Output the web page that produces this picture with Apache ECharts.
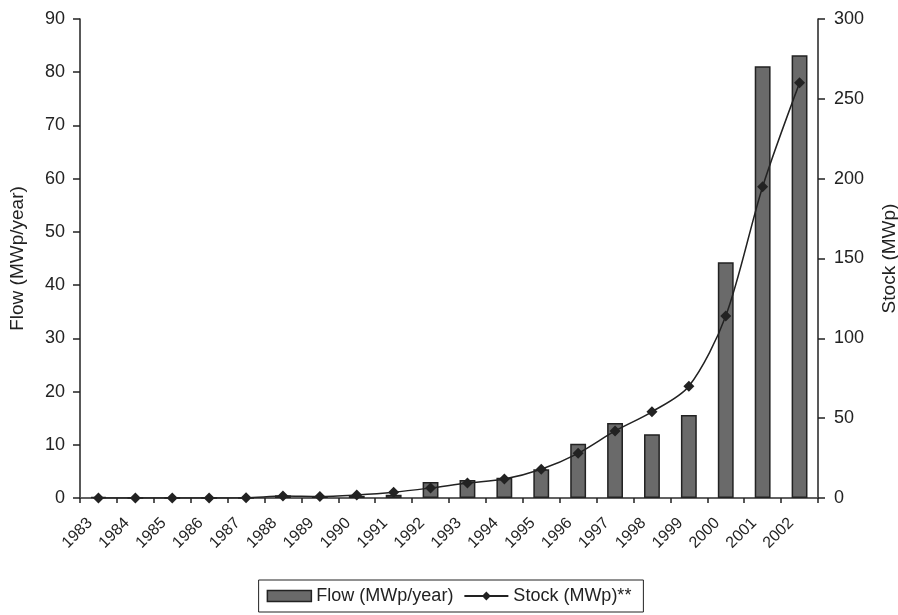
<!DOCTYPE html>
<html><head><meta charset="utf-8">
<script src="https://cdn.jsdelivr.net/npm/echarts@6/dist/echarts.min.js"></script>
<style>html,body{margin:0;padding:0;background:#fff}#c{width:898px;height:615px}</style>
</head><body><div id="c"></div>
<script>
const years = ['1983','1984','1985','1986','1987','1988','1989','1990','1991','1992','1993','1994','1995','1996','1997','1998','1999','2000','2001','2002'];
const flow = [0.2,0,0,0,0,0.5,0.3,0.4,0.6,3.0,3.4,3.8,5.4,10.2,14.1,12.0,15.6,44.3,81.1,83.2];
const stock = [0,0,0,0,0.1,1.2,0.9,1.9,3.6,6.3,9.4,11.9,18,28,42,54,70,114,195,260];
const leftTicks = {min:0, max:90, interval:10};
const rightTicks = {min:0, max:300, interval:50};

const font = 'Liberation Sans, Arial, sans-serif';
const chart = echarts.init(document.getElementById('c'), null, {renderer:'canvas'});
chart.setOption({
  animation:false,
  textStyle:{fontFamily:font},
  grid:{left:80, right:80, top:19, bottom:117, containLabel:false, outerBoundsMode:'none'},
  legend:{
    bottom:3, left:'center',
    borderColor:'#222', borderWidth:1, padding:[7,12,7,8],
    itemGap:10, itemWidth:44, itemHeight:11,
    textStyle:{fontSize:18, color:'#222', fontFamily:font},
    data:[
      {name:'Flow (MWp/year)', icon:'rect', itemStyle:{color:'#6a6a6a', borderColor:'#222', borderWidth:1.5}},
      {name:'Stock (MWp)**'}
    ]
  },
  xAxis:[{
    type:'category', data:years, position:'bottom',
    axisLine:{lineStyle:{color:'#222', width:1.5}},
    axisTick:{show:true, alignWithLabel:false, length:5, lineStyle:{color:'#222', width:1.5}},
    axisLabel:{rotate:45, fontSize:16, color:'#222', margin:14, padding:[0,12,0,0], interval:0, fontFamily:font},
    splitLine:{show:false}
  },{
    type:'category', data:years, position:'top',
    axisLine:{show:true, lineStyle:{color:'#666', width:1.5}},
    axisTick:{show:false}, axisLabel:{show:false}, splitLine:{show:false}
  }],
  yAxis:[{
    type:'value', position:'left', min:leftTicks.min, max:leftTicks.max, interval:leftTicks.interval,
    name:'Flow (MWp/year)', nameLocation:'middle', nameGap:53, nameRotate:90,
    nameTextStyle:{fontSize:19, color:'#222', fontFamily:font},
    axisLine:{show:true, lineStyle:{color:'#222', width:1.5}},
    axisTick:{show:true, length:7, lineStyle:{color:'#222', width:1.5}},
    axisLabel:{fontSize:18, color:'#222', margin:15, fontFamily:font},
    splitLine:{show:false}
  },{
    type:'value', position:'right', min:rightTicks.min, max:rightTicks.max, interval:rightTicks.interval,
    name:'Stock (MWp)', nameLocation:'middle', nameGap:62, nameRotate:90,
    nameTextStyle:{fontSize:19, color:'#222', fontFamily:font},
    axisLine:{show:true, lineStyle:{color:'#222', width:1.5}},
    axisTick:{show:true, length:7, lineStyle:{color:'#222', width:1.5}},
    axisLabel:{fontSize:18, color:'#222', margin:16, fontFamily:font},
    splitLine:{show:false}
  }],
  series:[{
    name:'Flow (MWp/year)', type:'bar', data:flow, xAxisIndex:0, yAxisIndex:0,
    barWidth:'43%',
    itemStyle:{color:'#6a6a6a', borderColor:'#222', borderWidth:1.5}
  },{
    name:'Stock (MWp)**', type:'line', data:stock, xAxisIndex:0, yAxisIndex:1,
    smooth:0.3, symbol:'diamond', symbolSize:11, showSymbol:true,
    lineStyle:{color:'#222', width:1.5},
    itemStyle:{color:'#222'}
  }]
});
</script></body></html>
